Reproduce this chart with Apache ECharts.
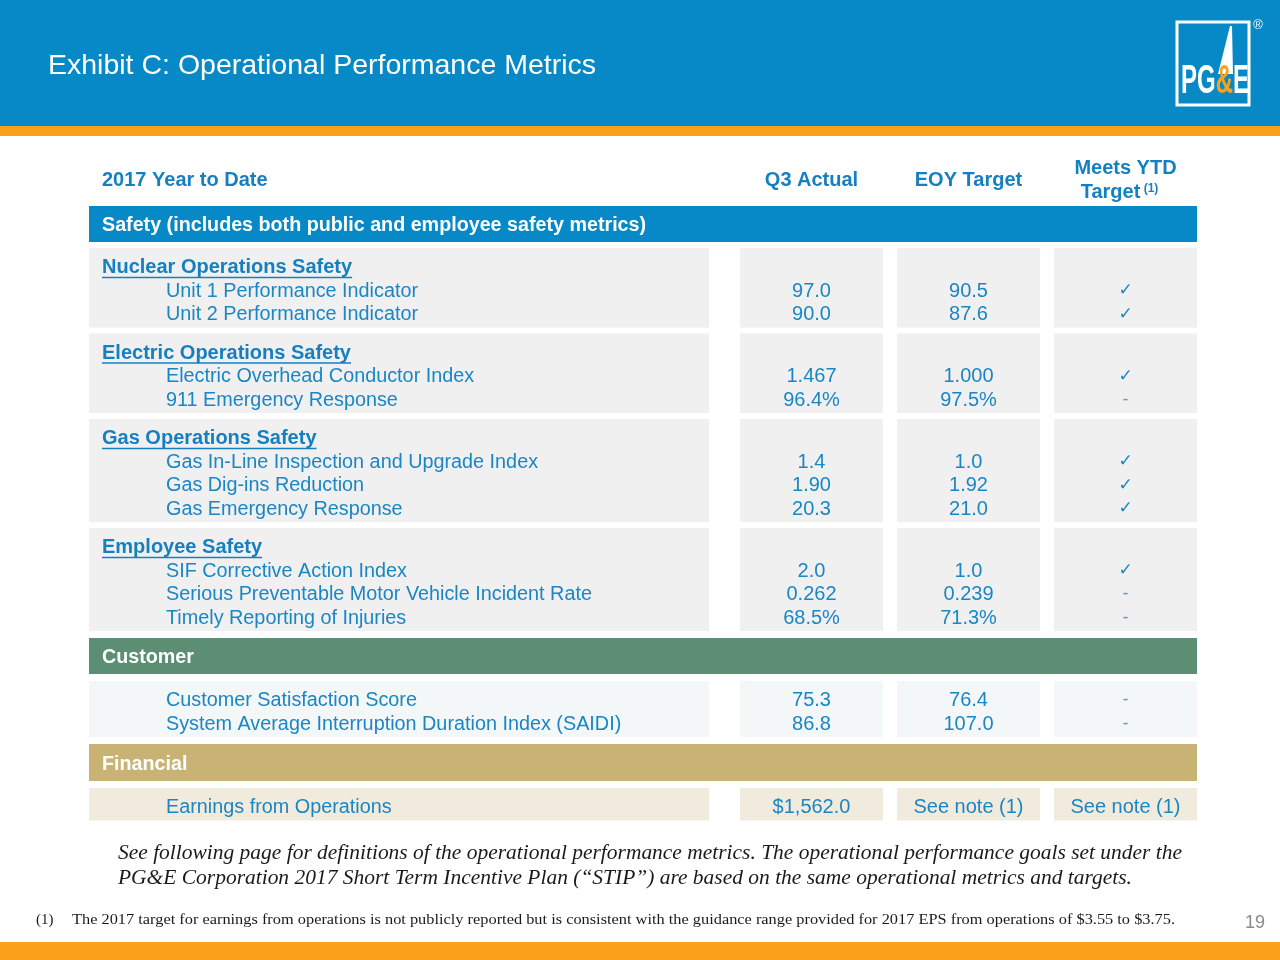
<!DOCTYPE html>
<html><head><meta charset="utf-8">
<script src="https://cdn.jsdelivr.net/npm/echarts@6/dist/echarts.min.js"></script>
<style>html,body{margin:0;padding:0;background:#fff}#main{width:1280px;height:960px}</style>
</head><body><div id="main"></div>
<script>
// ---------- data ----------
const titleText = 'Exhibit C: Operational Performance Metrics';
const columnHeaders = ['2017 Year to Date', 'Q3 Actual', 'EOY Target', 'Meets YTD', 'Target', '(1)'];
const sections = ['Safety (includes both public and employee safety metrics)', 'Customer', 'Financial'];
const groups = ['Nuclear Operations Safety', 'Electric Operations Safety', 'Gas Operations Safety', 'Employee Safety', '', ''];
const groupSection = [0, 0, 0, 0, 1, 2];
const metrics = [
  'Unit 1 Performance Indicator',
  'Unit 2 Performance Indicator',
  'Electric Overhead Conductor Index',
  '911 Emergency Response',
  'Gas In-Line Inspection and Upgrade Index',
  'Gas Dig-ins Reduction',
  'Gas Emergency Response',
  'SIF Corrective Action Index',
  'Serious Preventable Motor Vehicle Incident Rate',
  'Timely Reporting of Injuries',
  'Customer Satisfaction Score',
  'System Average Interruption Duration Index (SAIDI)',
  'Earnings from Operations'
];
const metricGroup = [0, 0, 1, 1, 2, 2, 2, 3, 3, 3, 4, 4, 5];
const q3Actual = ['97.0', '90.0', '1.467', '96.4%', '1.4', '1.90', '20.3', '2.0', '0.262', '68.5%', '75.3', '86.8', '$1,562.0'];
const eoyTarget = ['90.5', '87.6', '1.000', '97.5%', '1.0', '1.92', '21.0', '1.0', '0.239', '71.3%', '76.4', '107.0', 'See note (1)'];
const meetsTarget = ['\u2713', '\u2713', '\u2713', '-', '\u2713', '\u2713', '\u2713', '\u2713', '-', '-', '-', '-', 'See note (1)'];
const noteLines = [
  'See following page for definitions of the operational performance metrics. The operational performance goals set under the',
  'PG&E Corporation 2017 Short Term Incentive Plan (\u201cSTIP\u201d) are based on the same operational metrics and targets.'
];
const footnoteMark = '(1)';
const footnoteText = 'The 2017 target for earnings from operations is not publicly reported but is consistent with the guidance range provided for 2017 EPS from operations of $3.55 to $3.75.';
const pageNumber = '19';

// ---------- styles / layout ----------
const C = {
  headerBlue: '#0689c6', orange: '#f9a11b', text: '#1a86c4', bold: '#157fc0',
  bands: ['#0689c6', '#5b8e72', '#c9b374'], boxes: ['#f0f0f1', '#f3f7f7', '#f1ebdd']
};
const FONT = '"Liberation Sans", Arial, sans-serif';
const SERIF = '"Liberation Serif", "Times New Roman", serif';
const X = { left: 89, right: 1197, labelRight: 709, cols: [[740, 883], [897, 1040], [1054, 1197]], groupX: 102, metricX: 166 };
const LINE = 23.5;
const TY = 1.5; // text baseline nudge

const rects = [];
const texts = [];
const colCenter = c => (X.cols[c][0] + X.cols[c][1]) / 2;

texts.push({ x: X.groupX, y: 179, text: columnHeaders[0], kind: 'colhead', align: 'left' });
texts.push({ x: colCenter(0), y: 179, text: columnHeaders[1], kind: 'colhead', align: 'center' });
texts.push({ x: colCenter(1), y: 179, text: columnHeaders[2], kind: 'colhead', align: 'center' });
texts.push({ x: colCenter(2), y: 167, text: columnHeaders[3], kind: 'colhead', align: 'center' });
texts.push({ x: colCenter(2), y: 191, text: columnHeaders[4], sup: columnHeaders[5], kind: 'colhead2', align: 'center' });

let y = 206;
sections.forEach((sec, s) => {
  if (s > 0) y += 1;
  const bh = s === 2 ? 37 : 36;
  rects.push({ x1: X.left, x2: X.right, y1: y, y2: y + bh, color: C.bands[s] });
  texts.push({ x: X.groupX, y: y + bh / 2, text: sec, kind: 'section', align: 'left' });
  y += bh + (s === 0 ? 6 : 7);
  groups.forEach((g, gi) => {
    if (groupSection[gi] !== s) return;
    const top = y;
    let c = top + 18;
    if (g) { texts.push({ x: X.groupX, y: c, text: g, kind: 'group', align: 'left' }); c += LINE; }
    metrics.forEach((m, i) => {
      if (metricGroup[i] !== gi) return;
      texts.push({ x: X.metricX, y: c, text: m, kind: 'metric', align: 'left' });
      texts.push({ x: colCenter(0), y: c, text: q3Actual[i], kind: 'value', align: 'center' });
      texts.push({ x: colCenter(1), y: c, text: eoyTarget[i], kind: 'value', align: 'center' });
      texts.push({ x: colCenter(2), y: c, text: meetsTarget[i], kind: meetsTarget[i] === '\u2713' ? 'check' : (meetsTarget[i] === '-' ? 'dash' : 'value'), align: 'center' });
      c += LINE;
    });
    const bottom = c - LINE + 14.5;
    const col = C.boxes[s];
    rects.push({ x1: X.left, x2: X.labelRight, y1: top, y2: bottom, color: col });
    X.cols.forEach(cc => rects.push({ x1: cc[0], x2: cc[1], y1: top, y2: bottom, color: col }));
    y = bottom + 6;
  });
});

const measureCtx = document.createElement('canvas').getContext('2d');
function textWidth(t, font) { measureCtx.font = font; return measureCtx.measureText(t).width; }
function fitScale(t, font, target) { const w = textWidth(t, font); return w > 0 ? target / w : 1; }

const kindStyle = {
  colhead: { fontWeight: 'bold', fontSize: 20, fill: C.bold, fontFamily: FONT },
  colhead2: { fontWeight: 'bold', fontSize: 20, fill: C.bold, fontFamily: FONT },
  section: { fontWeight: 'bold', fontSize: 20, fill: '#ffffff', fontFamily: FONT },
  group: { fontWeight: 'bold', fontSize: 20, fill: C.bold, fontFamily: FONT },
  metric: { fontWeight: 'normal', fontSize: 20, fill: C.text, fontFamily: FONT },
  value: { fontWeight: 'normal', fontSize: 20, fill: C.text, fontFamily: FONT },
  check: { fontWeight: 'normal', fontSize: 17, fill: C.text, fontFamily: '"DejaVu Sans", sans-serif' },
  dash: { fontWeight: 'normal', fontSize: 18, fill: '#6a9cc0', fontFamily: FONT }
};
const kindSqueeze = { metric: 0.99, section: 0.985 };

const noteScale0 = fitScale(noteLines[0], 'italic 20px ' + SERIF, 1064);
const noteScale1 = noteScale0;
const footScale = fitScale(footnoteText, '15px ' + SERIF, 1103);

const chart = echarts.init(document.getElementById('main'));
chart.setOption({
  animation: false,
  backgroundColor: '#ffffff',
  grid: { left: 0, right: 0, top: 0, bottom: 0 },
  xAxis: { type: 'value', min: 0, max: 1280, show: false },
  yAxis: { type: 'value', min: 0, max: 960, inverse: true, show: false },
  graphic: [
    { type: 'rect', shape: { x: 0, y: 0, width: 1280, height: 126 }, style: { fill: C.headerBlue }, z: 0 },
    { type: 'rect', shape: { x: 0, y: 126, width: 1280, height: 10 }, style: { fill: C.orange }, z: 0 },
    { type: 'rect', shape: { x: 0, y: 942, width: 1280, height: 18 }, style: { fill: C.orange }, z: 0 },
    { type: 'text', x: 48, y: 66, style: { text: titleText, fill: '#ffffff', fontSize: 28.5, fontFamily: FONT, verticalAlign: 'middle' }, z: 1 },
    { type: 'rect', shape: { x: 1177, y: 22, width: 72, height: 83 }, style: { fill: 'none', stroke: '#ffffff', lineWidth: 3 }, z: 1 },
    { type: 'polygon', shape: { points: [[1230, 26], [1232, 26], [1233, 74], [1218, 74]] }, style: { fill: '#ffffff' }, z: 1 },
    { type: 'text', x: 1181, y: 102, scaleX: 0.6, style: { text: '{w|PG}{o|&}{w|E}', verticalAlign: 'bottom',
        rich: { w: { fill: '#ffffff', fontSize: 40, fontWeight: 'bold', fontFamily: FONT }, o: { fill: C.orange, fontSize: 40, fontWeight: 'bold', fontFamily: FONT } } }, z: 1 },
    { type: 'text', x: 1258, y: 25, style: { text: '\u00ae', fill: '#ffffff', fontSize: 13, fontFamily: FONT, align: 'center', verticalAlign: 'middle' }, z: 1 },
    { type: 'text', x: 118, y: 854, scaleX: noteScale0, style: { text: noteLines[0], fill: '#1a1a1a', fontSize: 20, fontStyle: 'italic', fontFamily: SERIF, verticalAlign: 'middle' }, z: 1 },
    { type: 'text', x: 118, y: 879, scaleX: noteScale1, style: { text: noteLines[1], fill: '#1a1a1a', fontSize: 20, fontStyle: 'italic', fontFamily: SERIF, verticalAlign: 'middle' }, z: 1 },
    { type: 'text', x: 36, y: 920, style: { text: footnoteMark, fill: '#1a1a1a', fontSize: 15, fontFamily: SERIF, verticalAlign: 'middle' }, z: 1 },
    { type: 'text', x: 72, y: 920, scaleX: footScale, style: { text: footnoteText, fill: '#1a1a1a', fontSize: 15, fontFamily: SERIF, verticalAlign: 'middle' }, z: 1 },
    { type: 'text', x: 1265, y: 923, style: { text: pageNumber, fill: '#8a8a8a', fontSize: 18, fontFamily: FONT, align: 'right', verticalAlign: 'middle' }, z: 1 }
  ],
  series: [
    {
      type: 'custom', name: 'cells', silent: true, z: 2,
      data: rects.map(r => [r.x1, r.y1, r.x2, r.y2]),
      encode: { x: [0, 2], y: [1, 3] },
      renderItem: (params, api) => {
        const p1 = api.coord([api.value(0), api.value(1)]);
        const p2 = api.coord([api.value(2), api.value(3)]);
        return { type: 'rect', shape: { x: p1[0], y: p1[1], width: p2[0] - p1[0], height: p2[1] - p1[1] }, style: { fill: rects[params.dataIndex].color } };
      }
    },
    {
      type: 'custom', name: 'texts', silent: true, z: 3,
      data: texts.map(t => [t.x, t.y]),
      encode: { x: 0, y: 1 },
      renderItem: (params, api) => {
        const t = texts[params.dataIndex];
        const p = api.coord([api.value(0), api.value(1)]);
        const st = kindStyle[t.kind];
        const children = [];
        const sx = kindSqueeze[t.kind] || 1;
        if (t.kind === 'colhead2') {
          children.push({ type: 'text', style: { x: p[0] - 6, y: p[1] + TY, text: '{a|' + t.text + '} {s|' + t.sup + '}', align: 'center', verticalAlign: 'middle',
            rich: { a: Object.assign({}, st), s: { fontSize: 12, fontWeight: 'bold', fill: C.bold, fontFamily: FONT, verticalAlign: 'top', padding: [0, 0, 8, 0] } } } });
        } else {
          children.push({ type: 'text', x: p[0], y: p[1] + TY, scaleX: sx, style: Object.assign({ x: 0, y: 0, text: t.text, align: t.align, verticalAlign: 'middle' }, st) });
        }
        if (t.kind === 'group') {
          const w = textWidth(t.text, 'bold 20px ' + FONT);
          children.push({ type: 'line', shape: { x1: p[0], y1: p[1] + TY + 10, x2: p[0] + w, y2: p[1] + TY + 10 }, style: { stroke: st.fill, lineWidth: 1.5 } });
        }
        return { type: 'group', children };
      }
    }
  ]
});
</script></body></html>
